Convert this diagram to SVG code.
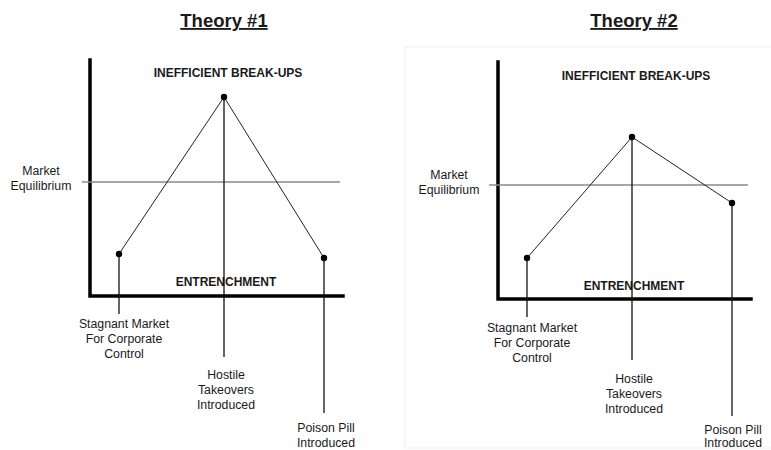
<svg xmlns="http://www.w3.org/2000/svg" width="771" height="450" viewBox="0 0 771 450">
<style>
text{font-family:"Liberation Sans",Arial,sans-serif;fill:#1a1a1a;text-anchor:middle}
.title{font-size:18.5px;font-weight:bold;text-decoration:underline}
.hdr{font-size:12px;font-weight:bold}
.lbl{font-size:12.3px}
.axis{stroke:#000;stroke-width:3.5;fill:none;stroke-linecap:square}
.eq{stroke:#8a8a8a;stroke-width:1.3}
.conn{stroke:#222;stroke-width:1}
.drop{stroke:#111;stroke-width:1.3}
.dot{fill:#000}
</style>
<rect x="0" y="0" width="771" height="450" fill="#fff"/>
<rect x="405" y="47" width="370" height="401" fill="none" stroke="#f5f5f5" stroke-width="1.5"/>

<g id="panel1">
  <text class="title" x="224" y="27">Theory #1</text>
  <path class="axis" d="M90,60 V296 H343"/>
  <line class="eq" x1="82" y1="182" x2="340" y2="182"/>
  <text class="lbl" x="41" y="175">Market</text>
  <text class="lbl" x="41" y="190">Equilibrium</text>
  <text class="hdr" x="228" y="77">INEFFICIENT BREAK-UPS</text>
  <text class="hdr" x="226" y="286">ENTRENCHMENT</text>
</g>

<g id="panel2">
  <text class="title" x="634" y="27">Theory #2</text>
  <path class="axis" d="M498,62 V299 H751"/>
  <line class="eq" x1="489" y1="185" x2="748" y2="185"/>
  <text class="lbl" x="449" y="179">Market</text>
  <text class="lbl" x="449" y="194">Equilibrium</text>
  <text class="hdr" x="636" y="80">INEFFICIENT BREAK-UPS</text>
  <text class="hdr" x="634" y="290">ENTRENCHMENT</text>
</g>

<g id="connectors">
  <line class="conn" x1="119" y1="254" x2="224" y2="97"/>
  <line class="conn" x1="224" y1="97" x2="324" y2="258"/>
  <line class="drop" x1="119" y1="254" x2="119" y2="314"/>
  <line class="drop" x1="224" y1="97" x2="224" y2="357"/>
  <line class="drop" x1="324" y1="258" x2="324" y2="413"/>
  <line class="conn" x1="527" y1="258" x2="632" y2="137"/>
  <line class="conn" x1="632" y1="137" x2="732" y2="203"/>
  <line class="drop" x1="527" y1="258" x2="527" y2="317"/>
  <line class="drop" x1="632" y1="137" x2="632" y2="360"/>
  <line class="drop" x1="732" y1="203" x2="732" y2="416"/>
</g>

<g id="t1-stagnant">
  <circle class="dot" cx="119" cy="254" r="3.2"/>
  <text class="lbl" x="124" y="328">Stagnant Market</text>
  <text class="lbl" x="124" y="343">For Corporate</text>
  <text class="lbl" x="124" y="358">Control</text>
</g>
<g id="t1-hostile">
  <circle class="dot" cx="224" cy="97" r="3.2"/>
  <text class="lbl" x="226" y="379">Hostile</text>
  <text class="lbl" x="226" y="394">Takeovers</text>
  <text class="lbl" x="226" y="409">Introduced</text>
</g>
<g id="t1-poison">
  <circle class="dot" cx="324" cy="258" r="3.2"/>
  <text class="lbl" x="326" y="432">Poison Pill</text>
  <text class="lbl" x="326" y="447">Introduced</text>
</g>

<g id="t2-stagnant">
  <circle class="dot" cx="527" cy="258" r="3.2"/>
  <text class="lbl" x="532" y="332">Stagnant Market</text>
  <text class="lbl" x="532" y="347">For Corporate</text>
  <text class="lbl" x="532" y="362">Control</text>
</g>
<g id="t2-hostile">
  <circle class="dot" cx="632" cy="137" r="3.2"/>
  <text class="lbl" x="634" y="383">Hostile</text>
  <text class="lbl" x="634" y="398">Takeovers</text>
  <text class="lbl" x="634" y="413">Introduced</text>
</g>
<g id="t2-poison">
  <circle class="dot" cx="732" cy="203" r="3.2"/>
  <text class="lbl" x="733" y="434">Poison Pill</text>
  <text class="lbl" x="733" y="447">Introduced</text>
</g>
</svg>
